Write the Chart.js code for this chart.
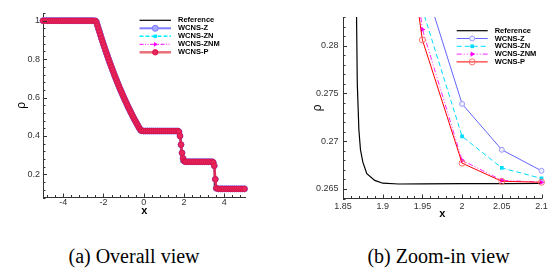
<!DOCTYPE html>
<html lang="en">
<head>
<meta charset="utf-8" />
<title>Density profiles: overall and zoom-in view</title>
<script src="https://cdn.jsdelivr.net/npm/chart.js@4.4.1/dist/chart.umd.min.js"></script>
<style>
  html,body{margin:0;padding:0;background:#fff;}
  body{width:554px;height:275px;position:relative;overflow:hidden;}
  canvas{position:absolute;top:0;}
  #overall{left:0;} #zoomed{left:277px;}
  .caption{position:absolute;top:246px;font:20px/20px "Liberation Serif","Times New Roman",serif;color:#000;text-align:center;white-space:nowrap;}
</style>
</head>
<body>
<canvas id="overall" width="277" height="230"></canvas>
<canvas id="zoomed" width="277" height="230"></canvas>
<div class="caption" style="left:0;width:268px">(a) Overall view</div>
<div class="caption" style="left:338px;width:201px">(b) Zoom-in view</div>
<script>
const SERIES = ['Reference', 'WCNS-Z', 'WCNS-ZN', 'WCNS-ZNM', 'WCNS-P'];

// (a) overall view: the four schemes coincide at this scale
const xOverall = [
  -5.0, -4.9, -4.8, -4.7, -4.6, -4.5, -4.4, -4.3, -4.2, -4.1,
  -4.0, -3.9, -3.8, -3.7, -3.6, -3.5, -3.4, -3.3, -3.2, -3.1,
  -3.0, -2.9, -2.8, -2.7, -2.6, -2.5, -2.4,
  -2.35, -2.3, -2.25, -2.2, -2.15, -2.1, -2.05, -2.0,
  -1.95, -1.9, -1.85, -1.8, -1.75, -1.7, -1.65, -1.6, -1.55, -1.5,
  -1.45, -1.4, -1.35, -1.3, -1.25, -1.2, -1.15, -1.1, -1.05, -1.0,
  -0.95, -0.9, -0.85, -0.8, -0.75, -0.7, -0.65, -0.6, -0.55, -0.5,
  -0.45, -0.4, -0.35, -0.3, -0.25, -0.2, -0.15, -0.1,
  0.0, 0.1, 0.2, 0.3, 0.4, 0.5, 0.6, 0.7, 0.8, 0.9,
  1.0, 1.1, 1.2, 1.3, 1.4, 1.5, 1.6, 1.7,
  1.75, 1.8, 1.85, 1.9, 1.95, 2.0, 2.05,
  2.1, 2.2, 2.3, 2.4, 2.5, 2.6, 2.7, 2.8, 2.9, 3.0, 3.1, 3.2, 3.3, 3.4,
  3.45, 3.5, 3.55, 3.6,
  3.7, 3.8, 3.9, 4.0, 4.1, 4.2, 4.3, 4.4, 4.5, 4.6, 4.7, 4.8, 4.9, 5.0
];
const rhoOverall = [
  1, 1, 1, 1, 1, 1, 1, 1, 1, 1,
  1, 1, 1, 1, 1, 1, 1, 1, 1, 1,
  1, 1, 1, 1, 1, 1, 0.999,
  0.993, 0.976, 0.959, 0.943, 0.926, 0.909, 0.893, 0.877,
  0.862, 0.846, 0.831, 0.816, 0.801, 0.786, 0.772, 0.758, 0.744, 0.730,
  0.716, 0.703, 0.690, 0.677, 0.664, 0.651, 0.639, 0.627, 0.615, 0.603,
  0.591, 0.580, 0.569, 0.557, 0.546, 0.536, 0.525, 0.515, 0.504, 0.494,
  0.484, 0.475, 0.465, 0.456, 0.446, 0.438, 0.430, 0.427,
  0.426, 0.426, 0.426, 0.426, 0.426, 0.426, 0.426, 0.426, 0.426, 0.426,
  0.426, 0.426, 0.426, 0.426, 0.426, 0.426, 0.426, 0.426,
  0.421, 0.400, 0.355, 0.312, 0.284, 0.270, 0.267,
  0.266, 0.266, 0.266, 0.266, 0.266, 0.266, 0.266, 0.266, 0.266, 0.266, 0.266, 0.266, 0.266, 0.266,
  0.262, 0.245, 0.175, 0.128,
  0.125, 0.125, 0.125, 0.125, 0.125, 0.125, 0.125, 0.125, 0.125, 0.125, 0.125, 0.125, 0.125, 0.125
];
const xRefOverall = [-5, -2.366, -2.3, -2.2, -2.1, -2.0, -1.9, -1.8, -1.7, -1.6, -1.5, -1.4, -1.3, -1.2, -1.1, -1.0,
  -0.9, -0.8, -0.7, -0.6, -0.5, -0.4, -0.3, -0.2, -0.14, 1.855, 1.855, 3.504, 3.504, 5];
const rhoRefOverall = [1, 1, 0.9768, 0.9428, 0.9095, 0.8773, 0.8461, 0.8157, 0.7862, 0.7576, 0.7298, 0.7028, 0.6767, 0.6513, 0.6267, 0.6029,
  0.5797, 0.5573, 0.5356, 0.5145, 0.4942, 0.4745, 0.4554, 0.4369, 0.4263, 0.4263, 0.2656, 0.2656, 0.125, 0.125];

// (b) zoom-in view near the contact discontinuity
const xZoom = [1.85, 1.9, 1.95, 2.0, 2.05, 2.1];
const rhoZ   = [0.360, 0.330, 0.2871, 0.2739, 0.2691, 0.2669];
const rhoZN  = [0.358, 0.320, 0.2838, 0.2705, 0.2672, 0.2661];
const rhoZNM = [0.356, 0.314, 0.2817, 0.2680, 0.2659, 0.2657];
const rhoP   = [0.355, 0.310, 0.2806, 0.2677, 0.2658, 0.2657];
const xRefZoom   = [1.86, 1.866, 1.867, 1.868, 1.870, 1.872, 1.875, 1.88, 1.89, 1.90, 1.92, 1.95, 2.0, 2.05, 2.1];
const rhoRefZoom = [0.40, 0.290, 0.2835, 0.276, 0.2712, 0.2691, 0.2678, 0.2666, 0.2659, 0.2656, 0.26552, 0.26553, 0.26555, 0.26556, 0.26557];

const pts = (xs, ys) => xs.map((x, i) => ({ x, y: ys[i] }));
const TICK_FONT = { family: "'Liberation Sans', Arial, sans-serif", size: 9 };

// inward major/minor tick marks, Tecplot style
const axisTicks = {
  id: 'axisTicks',
  afterDraw(chart, args, o) {
    const { ctx, chartArea: a, scales: { x, y } } = chart;
    ctx.save();
    ctx.strokeStyle = '#333';
    ctx.lineWidth = 1;
    const run = (scale, major, minor, horizontal) => {
      const n0 = Math.ceil(scale.min / minor - 1e-6), n1 = Math.floor(scale.max / minor + 1e-6);
      for (let k = n0; k <= n1; k++) {
        const v = k * minor;
        const isMajor = Math.abs(v / major - Math.round(v / major)) < 1e-6;
        const len = isMajor ? o.major : o.minor;
        const p = Math.round(scale.getPixelForValue(v)) + 0.5;
        ctx.beginPath();
        if (horizontal) { ctx.moveTo(p, a.bottom); ctx.lineTo(p, a.bottom - len); }
        else { ctx.moveTo(a.left, p); ctx.lineTo(a.left + len, p); }
        ctx.stroke();
      }
    };
    run(x, o.xMajor, o.xMinor, true);
    run(y, o.yMajor, o.yMinor, false);
    ctx.restore();
  }
};

// legend with line sample + marker, drawn inside the plot
const curveLegend = {
  id: 'curveLegend',
  afterDatasetsDraw(chart, args, o) {
    const ctx = chart.ctx;
    ctx.save();
    ctx.font = o.font;
    ctx.textBaseline = 'middle';
    chart.data.datasets.forEach((ds, i) => {
      const y = o.top + i * o.rowGap;
      ctx.strokeStyle = ds.legendColor || ds.borderColor;
      ctx.lineWidth = ds.borderWidth;
      ctx.setLineDash(ds.borderDash || []);
      ctx.beginPath(); ctx.moveTo(o.left, y); ctx.lineTo(o.left + o.lineLen, y); ctx.stroke();
      ctx.setLineDash([]);
      if (ds.pointRadius > 0) {
        ctx.fillStyle = ds.pointBackgroundColor;
        ctx.strokeStyle = ds.pointBorderColor;
        ctx.lineWidth = ds.pointBorderWidth;
        Chart.helpers.drawPoint(ctx, { pointStyle: ds.pointStyle, rotation: ds.pointRotation || 0,
          radius: ds.pointRadius, borderWidth: ds.pointBorderWidth }, o.left + o.lineLen / 2, y);
      }
      ctx.fillStyle = '#000';
      ctx.fillText(ds.label, o.left + o.lineLen + o.gap, y);
    });
    ctx.restore();
  }
};

function axes(xMin, xMax, xStep, yMin, yMax, yStep, yWidth, xHeight, pad) {
  return {
    x: {
      type: 'linear', min: xMin, max: xMax,
      grid: { display: false, drawTicks: false, tickLength: 0 },
      border: { color: '#333', width: 1 },
      ticks: { stepSize: xStep, includeBounds: false, font: TICK_FONT, color: '#333', padding: pad.xTick, maxRotation: 0,
        callback: v => String(Number(v.toFixed(3))) },
      title: { display: true, text: 'x', color: '#000', padding: { bottom: pad.xTitle },
        font: { family: "'Liberation Sans', Arial, sans-serif", size: 11, weight: 'bold' } },
      afterFit: s => { s.height = xHeight; }
    },
    y: {
      type: 'linear', min: yMin, max: yMax,
      grid: { display: false, drawTicks: false, tickLength: 0 },
      border: { color: '#333', width: 1 },
      ticks: { stepSize: yStep, includeBounds: false, font: TICK_FONT, color: '#333', padding: pad.yTick,
        callback: v => String(Number(v.toFixed(4))) },
      title: { display: true, text: 'ρ', color: '#000', padding: { top: pad.yTitle },
        font: { family: "'Liberation Sans', Arial, sans-serif", size: 12 } },
      afterFit: s => { s.width = yWidth; }
    }
  };
}

// (a) overall view
new Chart(document.getElementById('overall'), {
  type: 'line',
  data: {
    datasets: [
      { label: SERIES[0], data: pts(xRefOverall, rhoRefOverall), borderColor: '#000', borderWidth: 1.2,
        pointRadius: 0, order: 4 },
      { label: SERIES[1], data: pts(xOverall, rhoOverall), borderColor: '#8080ff', borderWidth: 2,
        pointStyle: 'circle', pointRadius: 3, pointBorderWidth: 1, pointBorderColor: '#7878ff', pointBackgroundColor: '#a8a8ff', order: 3 },
      { label: SERIES[2], data: pts(xOverall, rhoOverall), borderColor: '#00f0ff', borderWidth: 1.5, borderDash: [4, 2],
        pointStyle: 'rect', pointRadius: 2.4, pointBorderWidth: 0, pointBorderColor: '#00e8ff', pointBackgroundColor: '#00e8ff', order: 2 },
      { label: SERIES[3], data: pts(xOverall, rhoOverall), borderColor: '#ff00ff', borderWidth: 1, borderDash: [4, 1.5, 1, 1.5, 1, 1.5],
        pointStyle: 'triangle', pointRotation: 90, pointRadius: 2.8, pointBorderWidth: 0, pointBorderColor: '#ff00ff', pointBackgroundColor: '#ff00ff', order: 1 },
      { label: SERIES[4], data: pts(xOverall, rhoOverall), borderColor: '#e0285a', legendColor: '#e8707a', borderWidth: 2.5,
        pointStyle: 'circle', pointRadius: 2.7, pointBorderWidth: 1, pointBorderColor: '#d8144c', pointBackgroundColor: '#e8285c', order: 0 }
    ]
  },
  options: {
    responsive: false, animation: false, devicePixelRatio: 1,
    clip: false,
    layout: { padding: { left: 0, top: 13, right: 31.5, bottom: 0 } },
    plugins: {
      legend: { display: false }, tooltip: { enabled: false },
      axisTicks: { xMajor: 2, xMinor: 0.4, yMajor: 0.2, yMinor: 0.04, major: 4, minor: 2.5 },
      curveLegend: { left: 139.5, lineLen: 31.5, gap: 7, top: 20.3, rowGap: 8,
        font: "bold 7.5px 'Liberation Sans', Arial, sans-serif" }
    },
    scales: axes(-5, 5.05, 2, 0.08, 1.04, 0.2, 43, 32.5, { xTick: 0, yTick: 3, xTitle: 12.4, yTitle: 14.5 })
  },
  plugins: [axisTicks, curveLegend]
});

// (b) zoom-in view
new Chart(document.getElementById('zoomed'), {
  type: 'line',
  data: {
    datasets: [
      { label: SERIES[0], data: pts(xRefZoom, rhoRefZoom), borderColor: '#000', borderWidth: 1.2,
        pointRadius: 0, order: 4 },
      { label: SERIES[1], data: pts(xZoom, rhoZ), borderColor: '#6464ff', borderWidth: 1,
        pointStyle: 'circle', pointRadius: 2.5, pointBorderWidth: 1, pointBorderColor: '#9a9aff', pointBackgroundColor: '#eeeeff', order: 3 },
      { label: SERIES[2], data: pts(xZoom, rhoZN), borderColor: '#00dcff', borderWidth: 1, borderDash: [5, 3],
        pointStyle: 'rect', pointRadius: 2.6, pointBorderWidth: 0, pointBorderColor: '#00dcff', pointBackgroundColor: '#00dcff', order: 2 },
      { label: SERIES[3], data: pts(xZoom, rhoZNM), borderColor: '#ff20ff', borderWidth: 1, borderDash: [5, 2, 1, 2, 1, 2],
        pointStyle: 'triangle', pointRotation: 90, pointRadius: 3, pointBorderWidth: 0, pointBorderColor: '#ff00ff', pointBackgroundColor: '#ff00ff', order: 1 },
      { label: SERIES[4], data: pts(xZoom, rhoP), borderColor: '#ff0000', borderWidth: 1,
        pointStyle: 'circle', pointRadius: 3, pointBorderWidth: 1, pointBorderColor: '#ff6a6a', pointBackgroundColor: 'rgba(255,255,255,0)', order: 0 }
    ]
  },
  options: {
    responsive: false, animation: false, devicePixelRatio: 1,
    clip: { left: 0, top: 0, right: 6, bottom: 6 },
    layout: { padding: { left: 0, top: 17, right: 12.5, bottom: 0 } },
    plugins: {
      legend: { display: false }, tooltip: { enabled: false },
      axisTicks: { xMajor: 0.05, xMinor: 0.01, yMajor: 0.005, yMinor: 0.001, major: 4, minor: 2.5 },
      curveLegend: { left: 179.7, lineLen: 31, gap: 7, top: 30.7, rowGap: 7.8,
        font: "bold 7.5px 'Liberation Sans', Arial, sans-serif" }
    },
    scales: axes(1.85, 2.1, 0.05, 0.264, 0.283, 0.005, 66, 31.5, { xTick: 2.5, yTick: 4.5, xTitle: 9.4, yTitle: 33.8 })
  },
  plugins: [axisTicks, curveLegend]
});
</script>
</body>
</html>
